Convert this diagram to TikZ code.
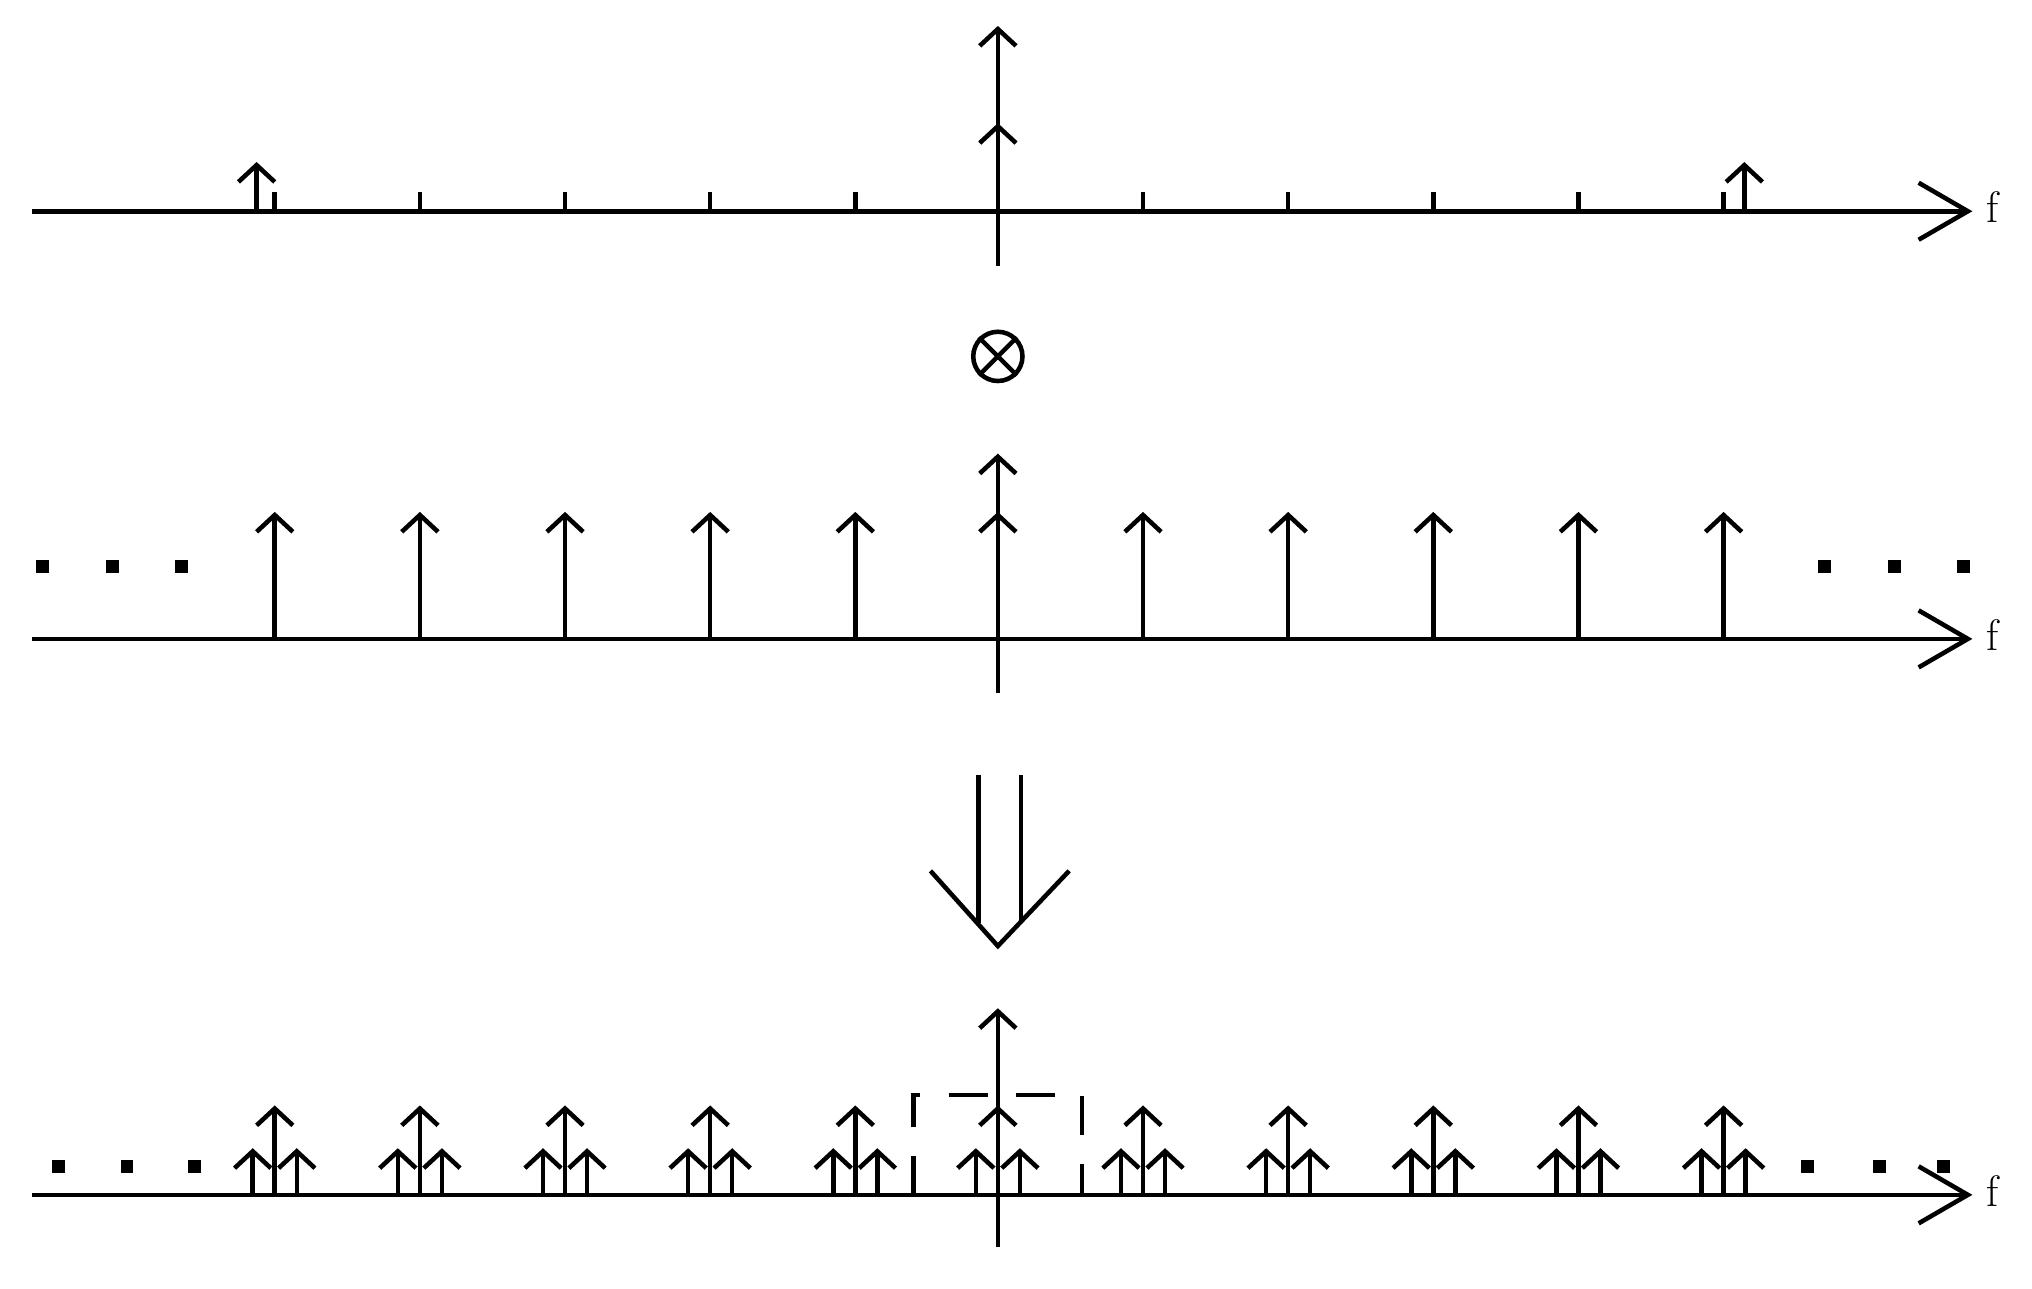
\documentclass[tikz,border=0pt]{standalone}
\usetikzlibrary{arrows.meta}
\begin{document}
\begin{tikzpicture}[x=1pt,y=-1pt,line width=3.5pt,
  imp/.style={-{Straight Barb[length=13pt,width=28pt,line width=3.5pt]}},
  ax/.style={-{Straight Barb[length=38pt,width=44pt,line width=3.5pt]}},
  tk/.style={line width=3.5pt},
  lab/.style={font=\fontsize{34}{36}\selectfont,anchor=west},
  dot/.style={fill,minimum size=10pt,inner sep=0pt,rectangle}]
\useasboundingbox (0,0) rectangle (1568,994);
% ---- top
\draw[ax] (25,163) -- (1522,163);
\node[lab] (f1) at (1528,160) {f};
\draw[imp] (770,205) -- (770,20);
\draw[imp] (770,163) -- (770,95);
\foreach \x in {212,324,436,548,660,882,994,1106,1218,1330}
  \draw[tk] (\x,163) -- (\x,148);
\draw[imp] (198,163) -- (198,125);
\draw[imp] (1346,163) -- (1346,125);
% otimes
\node[draw,circle,minimum size=38pt,inner sep=0pt,line width=3.5pt] (ot) at (770,275) {};
\draw (ot.north west) -- (ot.south east) (ot.north east) -- (ot.south west);
% ---- middle
\draw[ax] (25,493) -- (1522,493);
\node[lab] (f2) at (1528,490) {f};
\draw[imp] (770,535) -- (770,350);
\draw[imp] (770,493) -- (770,395);
\foreach \x in {212,324,436,548,660,882,994,1106,1218,1330}
  \draw[imp] (\x,493) -- (\x,395);
\foreach \x in {33,87,140,1408,1462,1515}
  \node[dot] at (\x,437) {};
% ---- double arrow
\draw (755,598) -- (755,712) (788,598) -- (788,712);
\draw (718,672) -- (770,730) -- (825,672);
% ---- bottom
\draw[ax] (25,922) -- (1522,922);
\node[lab] (f3) at (1528,919) {f};
\draw[imp] (770,962) -- (770,778);
\draw[imp] (770,922) -- (770,853);
\draw[imp] (753,922) -- (753,886);
\draw[imp] (787,922) -- (787,886);
\foreach \x in {212,324,436,548,660,882,994,1106,1218,1330}{
  \draw[imp] (\x,922) -- (\x,853);
  \draw[imp] (\x-17,922) -- (\x-17,886);
  \draw[imp] (\x+17,922) -- (\x+17,886);}
\draw[dash pattern=on 30pt off 22pt] (705,922) -- (705,845) -- (835,845) -- (835,922);
\foreach \x in {45,98,150,1395,1450,1500}
  \node[dot] at (\x,900) {};
\end{tikzpicture}
\end{document}
